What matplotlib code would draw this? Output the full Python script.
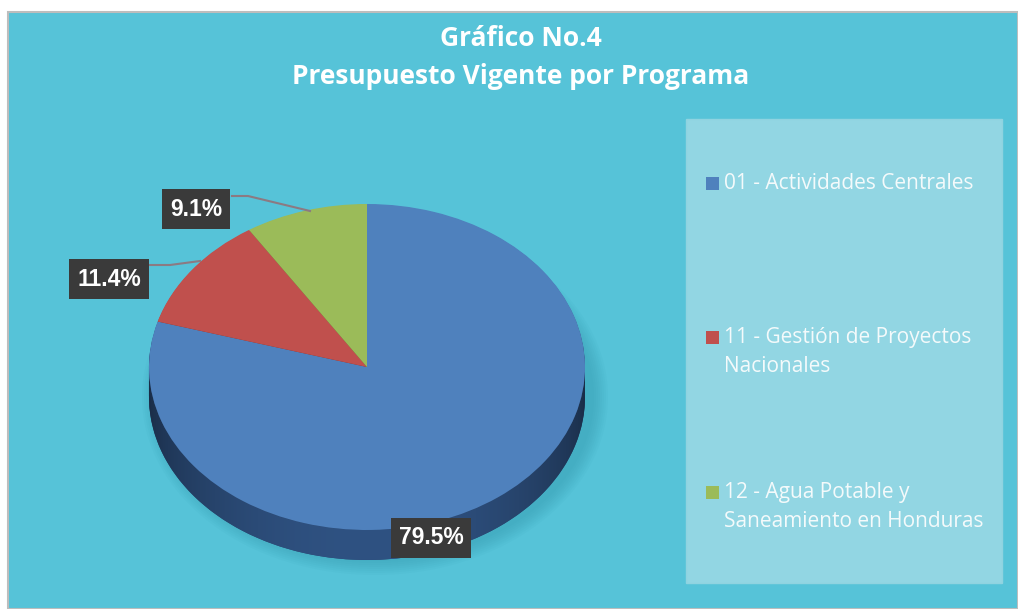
import numpy as np
import matplotlib.pyplot as plt
from matplotlib.patches import Rectangle, Polygon, Ellipse

programas = ['01 - Actividades Centrales',
             '11 - Gestión de Proyectos\nNacionales',
             '12 - Agua Potable y\nSaneamiento en Honduras']
porcentajes = [79.5, 11.4, 9.1]
etiquetas = ['79.5%', '11.4%', '9.1%']
colores = ['#4F81BD', '#C0504D', '#9BBB59']
colores_lado = ['#2A4870', '#7A302E', '#5E7436']

W, H = 1018, 609
fig = plt.figure(figsize=(W / 100, H / 100), dpi=100)
fig.patch.set_facecolor('white')

# fondo en pixeles
bg = fig.add_axes([0, 0, 1, 1])
bg.set_xlim(0, W)
bg.set_ylim(H, 0)
bg.axis('off')
bg.add_patch(Rectangle((8, 12), W - 8, H - 12, fc='#56C3D8', ec='#BDBDBD', lw=1.5))
# panel de la leyenda
bg.add_patch(Rectangle((686, 119), 316, 464, fc='#92D6E3', ec='#8FD3E0', lw=1))

bg.text(521, 39, 'Gráfico No.4', ha='center', va='center', color='white',
        fontsize=19, fontweight='bold', family='Open Sans')
bg.text(521, 77, 'Presupuesto Vigente por Programa', ha='center', va='center',
        color='white', fontsize=19, fontweight='bold', family='Open Sans')

# geometria del pastel
cx, cy, rx, ry = 367, 367, 218, 163
dz = 0.184

# sombra suave
for k in range(8):
    bg.add_patch(Ellipse((cx + 8, cy + 30), 2 * rx + 30 - 4 * k, 2 * ry + 30 - 4 * k,
                         fc='#2A8FA3', ec='none', alpha=0.05))

x0, x1 = -1.02, 1.02
y0, y1 = -1 - dz - 0.02, 1.02
left = cx + x0 * rx
bottom_px = cy - y0 * ry
pax = fig.add_axes([left / W, (H - bottom_px) / H, (x1 - x0) * rx / W, (y1 - y0) * ry / H])

# lado (profundidad)
for off in np.linspace(dz, 0.005, 25):
    pax.pie(porcentajes, colors=colores_lado, startangle=90, counterclock=False,
            center=(0, -off), radius=1, wedgeprops=dict(linewidth=0))

# degradado del lado frontal
t = np.linspace(np.pi, 2 * np.pi, 200)
xs = np.cos(t)
pts = np.concatenate([np.column_stack([xs, np.sin(t) - dz]),
                      np.column_stack([xs[::-1], np.sin(t[::-1])])])
clip = Polygon(pts, closed=True, transform=pax.transData, fc='none', ec='none')
pax.add_patch(clip)
grad = np.linspace(0, 1, 256)
shade = 0.55 + 0.45 * np.sin(np.pi * grad) ** 0.6
img = np.zeros((1, 256, 3))
base = np.array([0x2F, 0x52, 0x82]) / 255
for i in range(3):
    img[0, :, i] = base[i] * shade
im = pax.imshow(img, extent=(-1, 1, -1 - dz, 0), aspect='auto', zorder=3)
im.set_clip_path(clip)

# cara superior
wedges, _ = pax.pie(porcentajes, colors=colores, startangle=90, counterclock=False,
                    radius=1, wedgeprops=dict(linewidth=0))
for w in wedges:
    w.set_zorder(4)
pax.set_aspect('auto')
pax.set_xlim(x0, x1)
pax.set_ylim(y0, y1)
pax.axis('off')

# capa superior para etiquetas
top = fig.add_axes([0, 0, 1, 1])
top.set_xlim(0, W)
top.set_ylim(H, 0)
top.axis('off')
top.patch.set_alpha(0)

# lineas guia
top.plot([232, 248, 310], [196, 196, 211], color='#8C7A82', lw=1.5)
top.plot([150, 170, 200], [265, 265, 261], color='#8C7A82', lw=1.5)

pos_etiquetas = [(431, 538), (109, 279), (196, 209)]
for txt, (px, py) in zip(etiquetas, pos_etiquetas):
    top.text(px, py, txt, ha='center', va='center', color='white', fontsize=16.5,
             fontweight='bold', family='Liberation Sans',
             bbox=dict(boxstyle='square,pad=0.35', fc='#3A3A3A', ec='none'))

# leyenda
ley_y = [183, 337, 492]
for nombre, col, yy in zip(programas, colores, ley_y):
    top.add_patch(Rectangle((706, yy - 6.5), 13, 13, fc=col, ec='none'))
    top.text(724, yy - 10, nombre, ha='left', va='top', color='#F4FAFB', fontsize=15,
             family='Open Sans', linespacing=1.5)

fig.savefig('out.png', dpi=100, facecolor=fig.get_facecolor())
